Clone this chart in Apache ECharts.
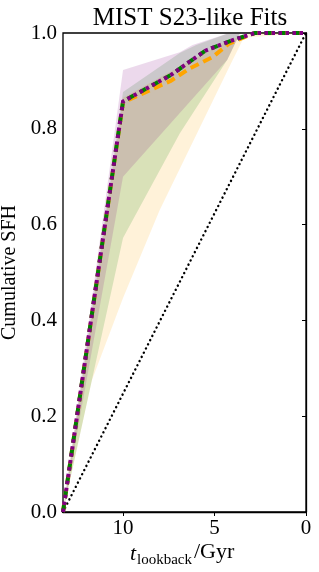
<!DOCTYPE html>
<html>
<head>
<meta charset="utf-8">
<script src="https://cdn.jsdelivr.net/npm/echarts@6/dist/echarts.min.js"></script>
<style>html,body{margin:0;padding:0;background:#fff}#c{width:319px;height:572px}</style>
</head>
<body>
<div id="c"></div>
<script>
// ---- data ----
var T_MAX = 13.28;
var yTicks = [0, 0.2, 0.4, 0.6, 0.8, 1.0];
var xTicks = [10, 5, 0];

// median cumulative SFH lines
var purpleX = [13.28, 10, 7.4, 5.5, 4.0, 2.8, 0];
var purpleY = [0, 0.857, 0.912, 0.963, 0.985, 1.0, 1.0];
var greenX  = [13.28, 10, 7.4, 5.5, 4.0, 2.8, 0];
var greenY  = [0, 0.857, 0.912, 0.963, 0.985, 1.0, 1.0];
var orangeX = [13.28, 10, 7.4, 6.4, 5.1, 4.2, 2.8, 0];
var orangeY = [0, 0.855, 0.900, 0.925, 0.950, 0.978, 1.0, 1.0];

// uncertainty bands
var purpleHiX = [13.28, 10, 6.9, 6.2, 4.2, 0];
var purpleHiY = [0, 0.923, 0.960, 0.975, 1.0, 1.0];
var purpleLoX = [13.28, 10, 4.3, 3.6, 0];
var purpleLoY = [0, 0.700, 0.944, 1.0, 1.0];

var greenHiX = [13.28, 10, 6.9, 6.0, 4.2, 0];
var greenHiY = [0, 0.877, 0.958, 0.975, 1.0, 1.0];
var greenLoX = [13.28, 10, 6.9, 4.3, 3.6, 0];
var greenLoY = [0, 0.572, 0.790, 0.944, 1.0, 1.0];

var orangeHiX = [13.28, 10, 6.9, 4.2, 3.0, 0];
var orangeHiY = [0, 0.865, 0.930, 0.985, 1.0, 1.0];
var orangeLoX = [13.28, 11.7, 10, 8.0, 4.0, 3.4, 0];
var orangeLoY = [0, 0.275, 0.447, 0.630, 0.944, 0.990, 1.0];

// reference: constant SFH
var constX = [13.28, 0];
var constY = [0, 1];

function pairs(xs, ys) { return xs.map(function (x, i) { return [x, ys[i]]; }); }

function band(name, hiX, hiY, loX, loY, color) {
  return {
    type: 'custom', name: name, silent: true, z: 1,
    data: [[0]],
    renderItem: function (params, api) {
      var pts = [];
      for (var i = 0; i < hiX.length; i++) pts.push(api.coord([hiX[i], hiY[i]]));
      for (var j = loX.length - 1; j >= 0; j--) pts.push(api.coord([loX[j], loY[j]]));
      return { type: 'polygon', shape: { points: pts }, style: { fill: color } };
    }
  };
}

function line(name, xs, ys, color, width, dash, z, cap) {
  return {
    type: 'line', name: name, data: pairs(xs, ys), showSymbol: false, symbol: 'none',
    silent: true, z: z, animation: false,
    lineStyle: { color: color, width: width, type: dash, cap: cap || 'butt', join: 'miter' }
  };
}

var FONT = 'Liberation Serif';
var chart = echarts.init(document.getElementById('c'), null, { renderer: 'canvas' });
chart.setOption({
  animation: false,
  backgroundColor: '#ffffff',
  title: {
    text: 'MIST S23-like Fits', left: 185, top: 1, textAlign: 'center',
    textStyle: { fontFamily: FONT, fontSize: 25, fontWeight: 'normal', color: '#000' }
  },
  grid: { left: 63, right: 13, top: 33, bottom: 60, show: true, borderColor: '#000', borderWidth: 1.3,
    backgroundColor: 'transparent', containLabel: false, outerBoundsMode: 'none' },
  xAxis: {
    type: 'value', inverse: true, min: 0, max: T_MAX, interval: 5,
    axisLine: { show: true, lineStyle: { color: '#000', width: 1.3 } },
    axisTick: { show: true, length: 4, lineStyle: { color: '#000', width: 1 },
      customValues: xTicks },
    axisLabel: { customValues: xTicks, fontFamily: FONT, fontSize: 21, color: '#000', margin: 6 },
    splitLine: { show: false }
  },
  yAxis: {
    type: 'value', min: 0, max: 1, interval: 0.2,
    axisLine: { show: true, lineStyle: { color: '#000', width: 1.3 } },
    axisTick: { show: true, length: 4, lineStyle: { color: '#000', width: 1 } },
    axisLabel: { fontFamily: FONT, fontSize: 21, color: '#000', margin: 6,
      formatter: function (v) { return v.toFixed(1); } },
    splitLine: { show: false },
    name: 'Cumulative SFH', nameLocation: 'middle', nameGap: 42, nameRotate: 90,
    nameTextStyle: { fontFamily: FONT, fontSize: 20, color: '#000' }
  },
  graphic: [
    { type: 'text', left: 130, top: 543, style: { text: 't', font: 'italic 22px "Liberation Serif"', fill: '#000' } },
    { type: 'text', left: 137, top: 553, style: { text: 'lookback', font: '15px "Liberation Serif"', fill: '#000' } },
    { type: 'text', left: 194, top: 541, style: { text: '/Gyr', font: '22px "Liberation Serif"', fill: '#000' } }
  ],
  series: [
    band('orange band', orangeHiX, orangeHiY, orangeLoX, orangeLoY, 'rgba(255,165,0,0.15)'),
    band('green band', greenHiX, greenHiY, greenLoX, greenLoY, 'rgba(0,128,0,0.15)'),
    band('purple band', purpleHiX, purpleHiY, purpleLoX, purpleLoY, 'rgba(128,0,128,0.15)'),
    line('constant', constX, constY, '#000', 2.4, [0.1, 4.6], 3, 'round'),
    line('orange', orangeX, orangeY, '#ffa500', 4, [9, 5], 4),
    line('green', greenX, greenY, '#008000', 4, [7, 7], 5),
    line('purple', purpleX, purpleY, '#800080', 4, [3.5, 3.5], 6)
  ]
});
</script>
</body>
</html>
